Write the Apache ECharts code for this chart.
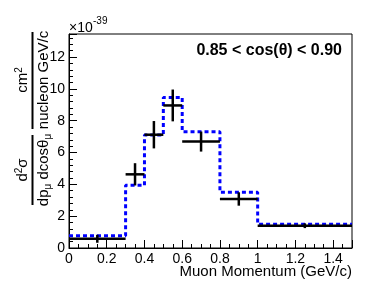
<!DOCTYPE html>
<html><head><meta charset="utf-8">
<script src="https://cdn.jsdelivr.net/npm/echarts@6/dist/echarts.min.js"></script>
<style>html,body{margin:0;padding:0;background:#fff}#c{width:387px;height:283px}</style>
</head><body><div id="c"></div>
<script>
// Bin edges (GeV/c)
const binEdges = [0, 0.3, 0.4, 0.5, 0.6, 0.8, 1.0, 1.5];
// Data (x1e-39)
const dataValues = [0.58, 4.63, 7.12, 8.96, 6.69, 3.08, 1.40];
const dataErrors = [0.25, 0.70, 0.86, 1.00, 0.63, 0.42, 0.15];
// MC prediction
const mcValues = [0.77, 3.94, 7.10, 9.46, 7.31, 3.50, 1.50];
const xTickLabels = ['0', '0.2', '0.4', '0.6', '0.8', '1', '1.2', '1.4'];
const yTickLabels = ['0', '2', '4', '6', '8', '10', '12'];

const FONT = '"Liberation Sans", Arial, sans-serif';

const mcStep = [];
for (let i = 0; i < mcValues.length; i++) mcStep.push([binEdges[i], mcValues[i]]);
mcStep.push([binEdges[binEdges.length - 1], mcValues[mcValues.length - 1]]);

const dataItems = dataValues.map((v, i) => [binEdges[i], binEdges[i + 1], v, dataErrors[i]]);

const chart = echarts.init(document.getElementById('c'), null, {renderer: 'canvas'});
chart.setOption({
  animation: false,
  backgroundColor: '#fff',
  grid: {left: 69, right: 35, top: 34, bottom: 35, show: true, borderColor: '#000', borderWidth: 1,
         containLabel: false, outerBoundsMode: 'none'},
  xAxis: {
    type: 'value', min: 0, max: 1.5, interval: 0.2,
    axisLine: {show: true, lineStyle: {color: '#000', width: 1}},
    axisTick: {show: true, inside: true, length: 8, lineStyle: {color: '#000'}},
    minorTick: {show: true, splitNumber: 4, length: 4, lineStyle: {color: '#000'}},
    splitLine: {show: false},
    axisLabel: {
      color: '#000', fontFamily: FONT, fontSize: 14, margin: 4, showMaxLabel: false,
      formatter: (v) => { const i = Math.round(v / 0.2); return (Math.abs(v - i * 0.2) < 1e-6 && i < xTickLabels.length) ? xTickLabels[i] : ''; }
    }
  },
  yAxis: {
    type: 'value', min: 0, max: 13.45, interval: 2,
    axisLine: {show: true, lineStyle: {color: '#000', width: 1}},
    axisTick: {show: true, inside: true, length: 8, lineStyle: {color: '#000'}},
    minorTick: {show: true, splitNumber: 5, length: 4, lineStyle: {color: '#000'}},
    splitLine: {show: false},
    axisLabel: {
      color: '#000', fontFamily: FONT, fontSize: 14, margin: 4, showMaxLabel: false,
      formatter: (v) => { const i = Math.round(v / 2); return (Math.abs(v - i * 2) < 1e-6 && i < yTickLabels.length) ? yTickLabels[i] : ''; }
    }
  },
  series: [
    {
      type: 'line', data: mcStep, step: 'end', showSymbol: false, symbol: 'none',
      lineStyle: {color: '#0000ff', width: 3, type: [4, 3]}, z: 2
    },
    {
      type: 'custom', z: 3,
      data: dataItems,
      encode: {x: [0, 1], y: [2]},
      renderItem: function (params, api) {
        const x0 = api.value(0), x1 = api.value(1), y = api.value(2), e = api.value(3);
        const pL = api.coord([x0, y]), pR = api.coord([x1, y]);
        const xc = (x0 + x1) / 2;
        const pT = api.coord([xc, y + e]), pB = api.coord([xc, y - e]);
        const st = {stroke: '#000', lineWidth: 2.5};
        return {type: 'group', children: [
          {type: 'line', shape: {x1: pL[0], y1: pL[1], x2: pR[0], y2: pR[1]}, style: st},
          {type: 'line', shape: {x1: pT[0], y1: pT[1], x2: pB[0], y2: pB[1]}, style: st}
        ]};
      }
    }
  ],
  graphic: [
    {type: 'text', x: 352, y: 272, style: {
      text: 'Muon Momentum (GeV/c)', fontFamily: FONT, fontSize: 15, fill: '#000', align: 'right', verticalAlign: 'middle'}},
    {type: 'text', x: 69, y: 28, style: {
      text: '×10', fontFamily: FONT, fontSize: 14, fill: '#000', align: 'left', verticalAlign: 'middle'}},
    {type: 'text', x: 93, y: 21, style: {
      text: '-39', fontFamily: FONT, fontSize: 10, fill: '#000', align: 'left', verticalAlign: 'middle'}},
    {type: 'text', x: 342, y: 51, style: {
      text: '0.85 < cos(θ) < 0.90', fontFamily: FONT, fontSize: 16, fontWeight: 'bold', fill: '#000',
      align: 'right', verticalAlign: 'middle'}},
    // y title: d2sigma / (dp dcos theta)
    {type: 'text', x: 23, y: 170, rotation: Math.PI / 2, style: {
      text: 'd{s|2}σ', fontFamily: FONT, fontSize: 15, fill: '#000', align: 'center', verticalAlign: 'middle',
      rich: {s: {fontSize: 10, fontFamily: FONT, padding: [0, 0, 7, 0]}}}},
    {type: 'line', shape: {x1: 32.5, y1: 135, x2: 32.5, y2: 205}, style: {stroke: '#000', lineWidth: 2}},
    {type: 'text', x: 43.5, y: 170, rotation: Math.PI / 2, style: {
      text: 'dp{b|μ} dcosθ{b|μ}', fontFamily: FONT, fontSize: 15, fill: '#000', align: 'center', verticalAlign: 'middle',
      rich: {b: {fontSize: 10, fontFamily: FONT, padding: [9, 0, 0, 0]}}}},
    // y title: cm2 / (nucleon GeV/c)
    {type: 'text', x: 23, y: 80, rotation: Math.PI / 2, style: {
      text: 'cm{s|2}', fontFamily: FONT, fontSize: 15, fill: '#000', align: 'center', verticalAlign: 'middle',
      rich: {s: {fontSize: 10, fontFamily: FONT, padding: [0, 0, 7, 0]}}}},
    {type: 'line', shape: {x1: 32.5, y1: 32, x2: 32.5, y2: 129}, style: {stroke: '#000', lineWidth: 2}},
    {type: 'text', x: 43.5, y: 80, rotation: Math.PI / 2, style: {
      text: 'nucleon GeV/c', fontFamily: FONT, fontSize: 15, fill: '#000', align: 'center', verticalAlign: 'middle'}}
  ]
});
</script></body></html>
